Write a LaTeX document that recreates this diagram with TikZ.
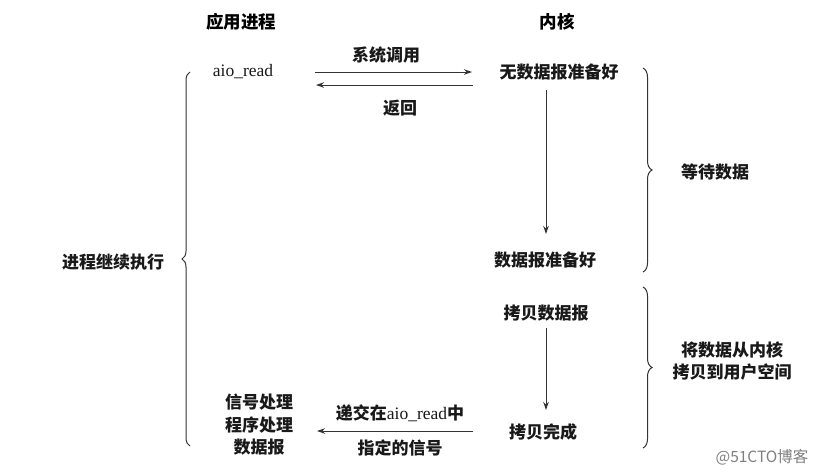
\documentclass[tikz,border=0pt]{standalone}
\usepackage{fontspec}
\setmainfont{Liberation Serif}
\newfontfamily\cjk{Noto Sans CJK SC}
\usetikzlibrary{arrows.meta,decorations.pathreplacing}
\begin{document}
\begin{tikzpicture}[x=1pt,y=-1pt,
  txt/.style={font=\cjk\bfseries\fontsize{17}{22.5}\selectfont, inner sep=0pt, align=center, text=black!90},
  head/.style={font=\cjk\bfseries\fontsize{17.5}{20}\selectfont, inner sep=0pt, text=black},
  lat/.style={font=\fontsize{17.5}{20}\selectfont, inner sep=0pt, text=black!90},
  flow/.style={draw=black!80, line width=1pt, -{Stealth[length=8pt,width=5.5pt]}},
  brc/.style={draw=black!80, line width=1pt, decorate},
  wmark/.style={font=\cjk\fontsize{15.5}{18}\selectfont, inner sep=0pt, text=black!50}]
\useasboundingbox[fill=white] (0,0) rectangle (821,475);

% headings
\node[head] (app) at (241,22) {应用进程};
\node[head] (kern) at (557,22) {内核};

% left column
\node[lat] (aio) at (243,72) {aio\_read};
\node[txt] (sig) at (259,425) {信号处理\\程序处理\\数据报};
\node[txt] (cont) at (113,262) {进程继续执行};

% kernel column
\node[txt] (nodata) at (559,72) {无数据报准备好};
\node[txt] (ready) at (545,260) {数据报准备好};
\node[txt] (copy) at (546,313) {拷贝数据报};
\node[txt] (done) at (543,432) {拷贝完成};

% horizontal arrows
\coordinate (c1a) at (315,72);
\coordinate (c1b) at (472,72);
\coordinate (c2a) at (473,85);
\coordinate (c2b) at (316,85);
\coordinate (c3a) at (473,431);
\coordinate (c3b) at (317,431);
\draw[flow] (c1a) -- (c1b);
\draw[flow] (c2a) -- (c2b);
\draw[flow] (c3a) -- (c3b);
\node[txt] (syscall) at (386,55) {系统调用};
\node[txt] (ret) at (400,108) {返回};
\node[txt] (deliver) at (400,413) {递交在{\mdseries\rmfamily\fontsize{17.5}{20}\selectfont aio\_read}中};
\node[txt] (spec) at (400,448) {指定的信号};

% vertical arrows
\coordinate (v1a) at (546,90);
\coordinate (v1b) at (546,234);
\coordinate (v2a) at (546,328);
\coordinate (v2b) at (546,410);
\draw[flow] (v1a) -- (v1b);
\draw[flow] (v2a) -- (v2b);

% braces
\coordinate (lb1) at (190,446);
\coordinate (lb2) at (190,72);
\draw[brc, decoration={brace, amplitude=8pt}] (lb1) -- (lb2);
\coordinate (rb1) at (643,68);
\coordinate (rb2) at (643,272);
\draw[brc, decoration={brace, amplitude=9pt}] (rb1) -- (rb2);
\coordinate (rb3) at (643,287);
\coordinate (rb4) at (643,448);
\draw[brc, decoration={brace, amplitude=9pt}] (rb3) -- (rb4);
\node[txt] (wait) at (715,172) {等待数据};
\node[txt, align=center] (cpy) at (732,361) {将数据从内核\\拷贝到用户空间};

% watermark
\node[wmark] (wm) at (762,457) {@51CTO博客};
\end{tikzpicture}
\end{document}
